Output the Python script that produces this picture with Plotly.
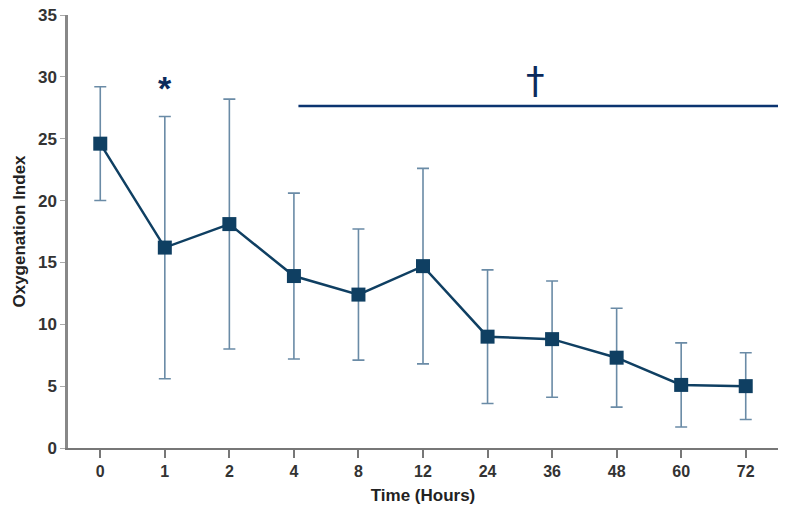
import plotly.graph_objects as go

time_labels = ["0", "1", "2", "4", "8", "12", "24", "36", "48", "60", "72"]
oi_mean = [24.6, 16.2, 18.1, 13.9, 12.4, 14.7, 9.0, 8.8, 7.3, 5.1, 5.0]
oi_sd = [4.6, 10.6, 10.1, 6.7, 5.3, 7.9, 5.4, 4.7, 4.0, 3.4, 2.7]
y_ticks = [0, 5, 10, 15, 20, 25, 30, 35]

fig = go.Figure()
fig.add_trace(go.Scatter(
    x=list(range(len(time_labels))), y=oi_mean,
    mode="lines+markers",
    line=dict(color="#0f3f62", width=2.5),
    marker=dict(symbol="square", size=14, color="#0f3f62"),
    error_y=dict(type="data", array=oi_sd, visible=True,
                 color="#6a8ba6", thickness=1.6, width=6),
    showlegend=False,
))

# significance annotations
fig.add_shape(type="line", xref="x", yref="y", x0=3.07, x1=10.5, y0=27.65, y1=27.65,
              line=dict(color="#0b3470", width=2.5))
fig.add_annotation(x=1, y=29.1, xref="x", yref="y", text="<b>*</b>", showarrow=False,
                   font=dict(size=34, color="#0b2a5c", family="Liberation Sans, Arial"))
fig.add_annotation(x=6.75, y=29.7, xref="x", yref="y", text="†", showarrow=False,
                   font=dict(size=37, color="#0b2a5c", family="DejaVu Sans"))

fig.update_layout(
    width=796, height=509,
    margin=dict(l=68, r=18, t=15, b=61),
    paper_bgcolor="white", plot_bgcolor="white",
    font=dict(family="Liberation Sans, Arial, sans-serif", color="#333333"),
    xaxis=dict(
        tickmode="array", tickvals=list(range(len(time_labels))), ticktext=[f"<b>{t}</b>" for t in time_labels],
        range=[-0.5, 10.5], showgrid=False, zeroline=False, automargin=False,
        showline=True, linecolor="#777777", linewidth=2,
        ticks="outside", ticklen=8, tickcolor="#777777", tickwidth=1.5,
        tickfont=dict(size=16, color="#333333"),
        title=dict(text="<b>Time (Hours)</b>", font=dict(size=17, color="#222222"), standoff=10),
    ),
    yaxis=dict(
        tickmode="array", tickvals=y_ticks, ticktext=[f"<b>{v}</b>" for v in y_ticks],
        range=[0, 35], showgrid=False, zeroline=False, automargin=False,
        showline=True, linecolor="#888888", linewidth=2.5,
        ticks="outside", ticklen=5, tickcolor="#aaaaaa", tickwidth=1,
        tickfont=dict(size=17, color="#333333"), ticklabeloverflow="allow",
        title=dict(text="<b>Oxygenation Index</b>", font=dict(size=17, color="#222222"), standoff=8),
    ),
)

fig.write_html("out.html", config={"displayModeBar": False},
               post_script="document.body.style.margin='0px';")
